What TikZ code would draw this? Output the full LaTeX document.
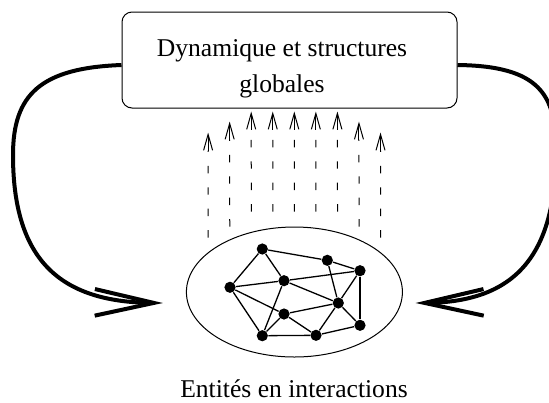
\documentclass[tikz,border=0pt]{standalone}
\usepackage{fontspec}
\setmainfont{Liberation Serif}
\usetikzlibrary{arrows.meta,shapes.geometric,calc}
\begin{document}
\begin{tikzpicture}[x=0.5pt,y=-0.5pt,
  boxstyle/.style={draw, line width=0.5pt, rounded corners=5pt, minimum width=167.5pt, minimum height=48pt, inner sep=0pt},
  ellstyle/.style={draw, ellipse, line width=0.5pt, minimum width=108pt, minimum height=65pt, inner sep=0pt},
  dot/.style={circle, fill=black, minimum size=5.6pt, inner sep=0pt},
  edge/.style={line width=0.65pt},
  big/.style={line width=2pt, -{Straight Barb[length=29.5pt,width=13.3pt]}},
  upline/.style={line width=0.5pt, dash pattern=on 3.7pt off 7pt},
  uphead/.style={line width=0.5pt, -{Straight Barb[length=8pt,width=4.5pt]}},
  lbl/.style={font=\fontsize{12.8}{17.8}\selectfont, inner sep=0pt}
]
\useasboundingbox (0,0) rectangle (549,402);
\node[boxstyle] (box) at (289.5,60) {};
\node[lbl, align=center] (title) at (282,68.5) {Dynamique et structures\\globales};
\node[ellstyle] (ell) at (294.4,292) {};
\node[lbl, anchor=base] (caption) at (294,397) {Entités en interactions};

% graph
\node[dot] (A) at (262.3,249) {};
\node[dot] (B) at (327.3,260.3) {};
\node[dot] (C) at (360,270.7) {};
\node[dot] (D) at (230,287.3) {};
\node[dot] (E) at (284,280.7) {};
\node[dot] (F) at (338.3,303) {};
\node[dot] (G) at (284,314) {};
\node[dot] (H) at (360,325.3) {};
\node[dot] (I) at (262.3,335.7) {};
\node[dot] (J) at (316,335.3) {};
\foreach \u/\v in {A/B,A/D,A/E,B/C,B/F,C/E,C/F,C/H,D/E,D/G,D/I,E/F,E/I,G/F,G/I,G/J,I/J,J/F,J/H,F/H}
  \draw[edge] (\u) -- (\v);

% dashed upward arrows
\foreach \k/\t/\b in {-4/132/238,-3/121/227,-2/111/212,-1/111/212,0/111/212,1/111/212,2/111/212,3/121/227,4/132/238}{
  \coordinate (ub\k) at ($(ell.north)+({\k*21.55},{\b-227})$);
  \coordinate (ut\k) at ($(box.south)+({\k*21.55+4.8},{\t-108})$);
  \coordinate (um\k) at ($(ut\k)+(0,18)$);
  \draw[upline] (ub\k) -- (um\k);
  \draw[uphead] (um\k) -- (ut\k);
}

% big feedback arrows
\coordinate (lt) at ($(ell.west)+(-23,11)$);
\coordinate (rt) at ($(ell.east)+(12.6,11)$);
\draw[big] ($(box.west)+(0,5)$) .. controls (40,68) and (13,95) .. (13,155)
  .. controls (13,260) and (60,302) .. (lt);
\draw[big] ($(box.east)+(0,5)$) .. controls (540,66) and (556,95) .. (556,150)
  .. controls (556,250) and (520,302) .. (rt);
\end{tikzpicture}
\end{document}
